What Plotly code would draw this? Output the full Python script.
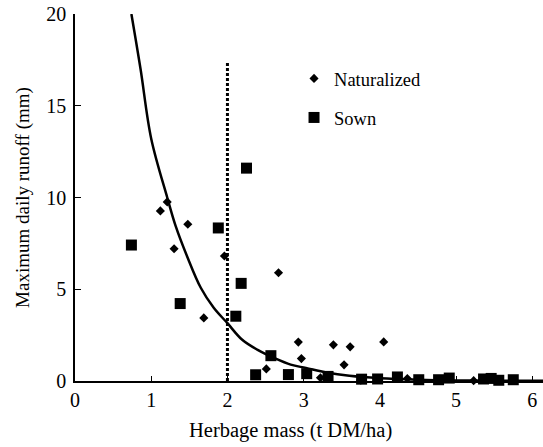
import plotly.graph_objects as go

# ---- data ----
nat_x = [1.12, 1.21, 1.30, 1.48, 1.69, 1.96, 2.51, 2.67, 2.93, 2.97, 3.22, 3.39,
         3.53, 3.61, 3.75, 4.05, 4.36, 5.23]
nat_y = [9.27, 9.76, 7.21, 8.54, 3.44, 6.81, 0.66, 5.90, 2.12, 1.22, 0.18, 1.97,
         0.88, 1.86, 0.04, 2.13, 0.14, 0.02]

sown_x = [0.74, 1.38, 1.88, 2.11, 2.18, 2.25, 2.37, 2.57, 2.80, 3.04, 3.32, 3.76,
          3.97, 4.23, 4.51, 4.77, 4.91, 5.36, 5.46, 5.56, 5.75]
sown_y = [7.41, 4.22, 8.34, 3.53, 5.32, 11.6, 0.34, 1.38, 0.35, 0.40, 0.25, 0.10,
          0.11, 0.22, 0.07, 0.07, 0.16, 0.11, 0.14, 0.04, 0.07]

fit_x = [0.74, 0.86, 1.00, 1.21, 1.32, 1.47, 1.65, 1.82, 2.00, 2.19, 2.39, 2.61,
         2.83, 3.03, 3.30, 3.60, 4.00, 4.50, 5.00, 5.50, 6.20]
fit_y = [20.0, 17.0, 13.2, 10.0, 8.45, 6.80, 5.08, 3.99, 3.15, 2.26, 1.71, 1.26,
         0.89, 0.71, 0.46, 0.28, 0.15, 0.07, 0.03, 0.02, 0.01]

threshold_x = [2.0, 2.0]
threshold_y = [0.0, 17.4]

x_ticks = [0, 1, 2, 3, 4, 5, 6]
y_ticks = [0, 5, 10, 15, 20]

x_title = "Herbage mass (t DM/ha)"
y_title = "Maximum daily runoff (mm)"

FONT = "Liberation Serif"

fig = go.Figure()

fig.add_trace(go.Scatter(
    x=fit_x, y=fit_y, mode="lines", line=dict(color="black", width=2.5, shape="spline"),
    showlegend=False, hoverinfo="skip"))

fig.add_trace(go.Scatter(
    x=threshold_x, y=threshold_y, mode="lines",
    line=dict(color="black", width=3, dash="3px,2px"),
    showlegend=False, hoverinfo="skip"))

fig.add_trace(go.Scatter(
    x=nat_x, y=nat_y, mode="markers", name="Naturalized", legendgroup="nat",
    marker=dict(symbol="diamond", size=7, color="black"), cliponaxis=False))

fig.add_trace(go.Scatter(
    x=sown_x, y=sown_y, mode="markers", name="Sown", legendgroup="sown",
    marker=dict(symbol="square", size=11, color="black"), cliponaxis=False))

fig.update_layout(
    width=543, height=447,
    margin=dict(l=75, r=0, t=14, b=66, autoexpand=False),
    plot_bgcolor="white", paper_bgcolor="white",
    font=dict(family=FONT, color="black", size=20),
    showlegend=True,
    legend=dict(x=0.468, y=0.875, xanchor="left", yanchor="top",
                traceorder="grouped", tracegroupgap=12,
                font=dict(size=18.5, family=FONT), bgcolor="rgba(0,0,0,0)"),
    xaxis=dict(range=[0, 6.14], tickvals=x_ticks, ticks="inside", ticklen=5,
               tickwidth=1, tickcolor="black", showline=True, linecolor="black",
               linewidth=1.5, showgrid=False, zeroline=False, automargin=False,
               tickfont=dict(size=20, family=FONT)),
    yaxis=dict(range=[0, 20], tickvals=y_ticks, ticks="inside", ticklen=6,
               tickwidth=1, tickcolor="black", showline=True, linecolor="black",
               linewidth=1.5, showgrid=False, zeroline=False, automargin=False,
               ticklabelstandoff=3,
               title=dict(text=y_title, standoff=12,
                          font=dict(size=19, family=FONT)),
               tickfont=dict(size=20, family=FONT)),
    annotations=[dict(text=x_title, xref="paper", yref="paper", x=0.4615, y=-0.136,
                      xanchor="center", yanchor="middle", showarrow=False,
                      font=dict(size=20.5, family=FONT))],
)

fig.write_html("out.html", config={"displayModeBar": False},
               post_script="document.body.style.margin='0';document.body.style.overflow='hidden';")
